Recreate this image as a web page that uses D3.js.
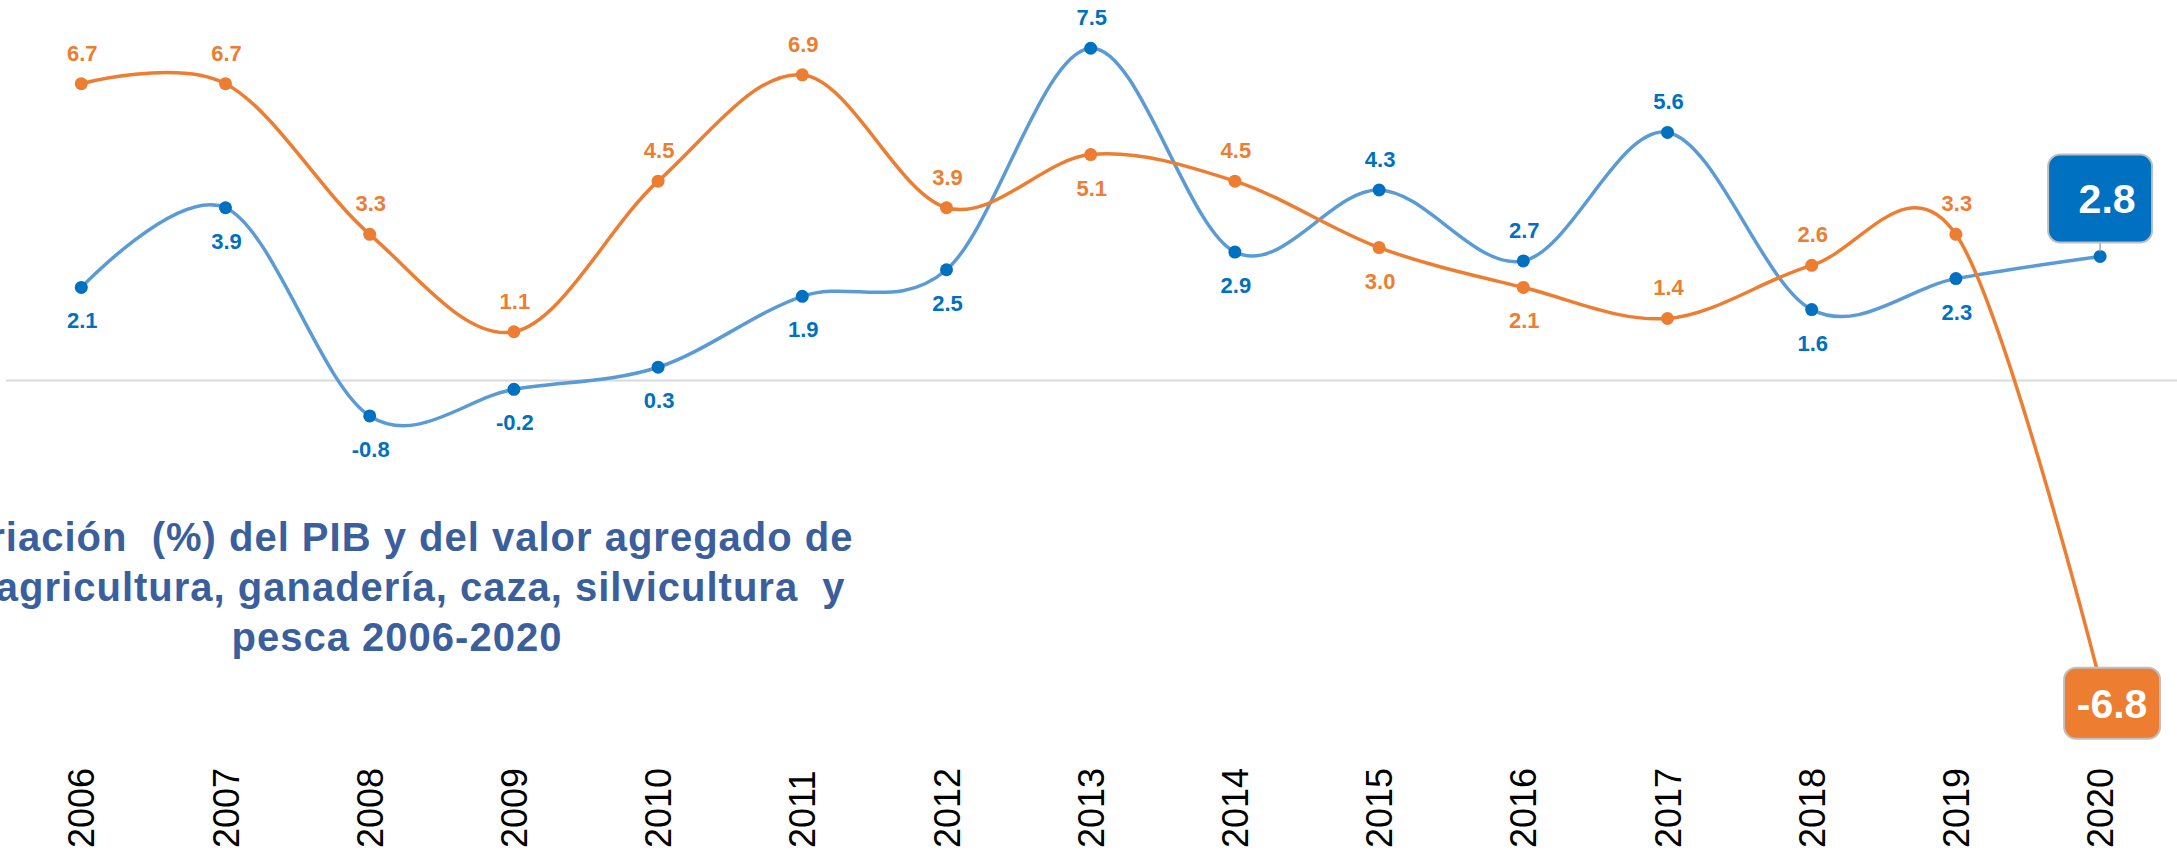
<!DOCTYPE html>
<html>
<head>
<meta charset="utf-8">
<script src="https://cdn.jsdelivr.net/npm/d3@7"></script>
<style>
    body { margin: 0; background: #fff; }
    svg { display: block; font-family: "Liberation Sans", Arial, sans-serif; }
</style>
</head>
<body>
<svg id="chart" width="2177" height="855"></svg>
<script>
// chart values
var years = [2006, 2007, 2008, 2009, 2010, 2011, 2012, 2013, 2014, 2015, 2016, 2017, 2018, 2019, 2020];
var pib = [2.1, 3.9, -0.8, -0.2, 0.3, 1.9, 2.5, 7.5, 2.9, 4.3, 2.7, 5.6, 1.6, 2.3, 2.8];
var agro = [6.7, 6.7, 3.3, 1.1, 4.5, 6.9, 3.9, 5.1, 4.5, 3.0, 2.1, 1.4, 2.6, 3.3, -6.8];

// where each data label sits ("box" = callout on the last point)
var pibLabelSide = ["below", "below", "below", "below", "below", "below", "below", "above",
    "below", "above", "above", "above", "below", "below", "box"];
var agroLabelSide = ["above", "above", "above", "above", "above", "above", "above", "below",
    "above", "below", "below", "above", "above", "above", "box"];

var titleLines = [
    "Variación  (%) del PIB y del valor agregado de",
    "la agricultura, ganadería, caza, silvicultura  y",
    "pesca 2006-2020"
];

var W = 2177, H = 855;
var svg = d3.select("#chart");

var x = d3.scalePoint().domain(years).range([81.3, 2100.1]);
var y = d3.scaleLinear().domain([-8, 8]).range([380.5 + 8 * 44.3, 380.5 - 8 * 44.3]);

var fmt = d3.formatLocale({decimal: ".", thousands: ",", grouping: [3], currency: ["", ""], minus: "-"})
        .format(".1f");

svg.append("rect").attr("width", W).attr("height", H).attr("fill", "#fff");

// zero line
svg.append("line")
        .attr("x1", 6).attr("x2", W)
        .attr("y1", y(0)).attr("y2", y(0))
        .attr("stroke", "#d9d9d9")
        .attr("stroke-width", 2);

// title, partly cut by the left edge as in the source
svg.append("text")
        .attr("text-anchor", "middle")
        .attr("fill", "#3b5f9c")
        .style("font-weight", "bold")
        .style("font-size", "40px")
        .style("letter-spacing", "1px")
        .style("white-space", "pre")
        .selectAll("tspan")
        .data(titleLines)
        .enter().append("tspan")
        .attr("x", 397)
        .attr("y", function (d, i) {
            return 551 + i * 50;
        })
        .text(function (d) {
            return d;
        });

// year labels
var xAxis = svg.append("g")
        .attr("transform", "translate(0,848)")
        .call(d3.axisBottom(x).tickSize(0).tickPadding(0));
xAxis.select(".domain").remove();
xAxis.attr("font-family", null).attr("font-size", null);
xAxis.selectAll("text")
        .attr("x", 0)
        .attr("y", 0)
        .attr("dy", "0.35em")
        .attr("transform", "rotate(-90)")
        .attr("text-anchor", "start")
        .attr("fill", "#000")
        .style("font-size", "36px");

function drawSeries(values, lineColor, dotColor) {
    var line = d3.line()
            .x(function (d, i) {
                return x(years[i]);
            })
            .y(function (d) {
                return y(d);
            })
            .curve(d3.curveCardinal.tension(0));

    svg.append("path")
            .datum(values)
            .attr("d", line)
            .attr("fill", "none")
            .attr("stroke", lineColor)
            .attr("stroke-width", 3.5);

    svg.append("g").selectAll("circle")
            .data(values)
            .enter().append("circle")
            .attr("cx", function (d, i) {
                return x(years[i]);
            })
            .attr("cy", function (d) {
                return y(d);
            })
            .attr("r", 6.5)
            .attr("fill", dotColor);
}

function drawLabels(values, sides, color) {
    svg.append("g").selectAll("text")
            .data(values)
            .enter().filter(function (d, i) {
                return sides[i] !== "box";
            }).append("text")
            .attr("x", function (d, i) {
                return x(years[i]) + 1;
            })
            .attr("y", function (d, i) {
                return sides[i] === "above" ? y(d) - 23 : y(d) + 41;
            })
            .attr("text-anchor", "middle")
            .attr("fill", color)
            .style("font-weight", "bold")
            .style("font-size", "22px")
            .text(fmt);
}

function callout(value, bx, by, bw, bh, fill, tx) {
    svg.append("rect")
            .attr("x", bx).attr("y", by)
            .attr("width", bw).attr("height", bh)
            .attr("rx", 12).attr("ry", 12)
            .attr("fill", fill)
            .attr("stroke", "#bfbfbf")
            .attr("stroke-width", 2);
    svg.append("text")
            .attr("x", tx)
            .attr("y", by + bh / 2 + 15)
            .attr("text-anchor", "middle")
            .attr("fill", "#fff")
            .style("font-weight", "bold")
            .style("font-size", "41px")
            .text(fmt(value));
}

drawSeries(pib, "#5b9bd5", "#0070c0");
drawSeries(agro, "#ed7d31", "#ed7d31");
drawLabels(pib, pibLabelSide, "#0070c0");
drawLabels(agro, agroLabelSide, "#ed7d31");

// last-year callouts
var last = years.length - 1;
var xl = x(years[last]);
svg.append("line")
        .attr("x1", xl).attr("x2", xl)
        .attr("y1", y(pib[last]) - 14).attr("y2", y(pib[last]) - 5)
        .attr("stroke", "#a6a6a6")
        .attr("stroke-width", 1.5);
callout(pib[last], xl - 52, y(pib[last]) - 102, 104, 88, "#0070c0", xl + 7);
callout(agro[last], xl - 36, y(agro[last]) - 14, 96, 71, "#ed7d31", xl + 12);
</script>
</body>
</html>
